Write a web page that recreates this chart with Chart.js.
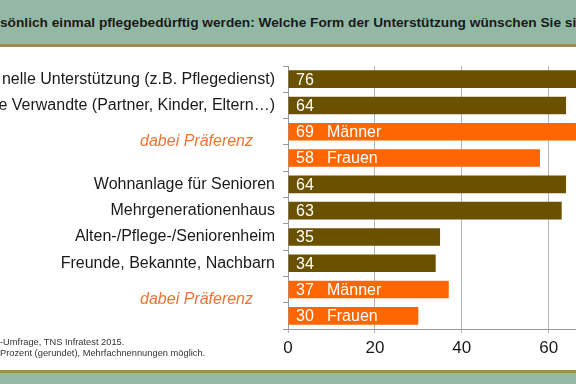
<!DOCTYPE html>
<html>
<head>
<meta charset="utf-8">
<script src="https://cdn.jsdelivr.net/npm/chart.js@4"></script>
<style>
  html, body { margin: 0; padding: 0; background: #fff; }
  #page { position: relative; width: 576px; height: 384px; overflow: hidden; font-family: "Liberation Sans", Arial, sans-serif; }
  #topBand { position: absolute; left: 0; top: 0; width: 576px; height: 44px; background: #93b9a6; border-bottom: 3px solid #a08c50; }
  #title { position: absolute; left: 0; top: 15px; white-space: nowrap; font-weight: bold; font-size: 13.7px; color: #1a1a1a; }
  #bottomBand { position: absolute; left: 0; top: 370px; width: 576px; height: 11px; background: #93b9a6; border-top: 3px solid #a08c50; }
  #note { position: absolute; left: 0; top: 337px; font-size: 9.3px; line-height: 10.5px; color: #333; white-space: nowrap; }
  #chartBox { position: absolute; left: 0; top: 47px; width: 650px; height: 320px; }
</style>
</head>
<body>
<div id="page">
  <div id="topBand"></div>
  <div id="title">sönlich einmal pflegebedürftig werden: Welche Form der Unterstützung wünschen Sie si</div>
  <div id="chartBox"><canvas id="myChart" width="650" height="320"></canvas></div>
  <div id="note">-Umfrage, TNS Infratest 2015.<br>Prozent (gerundet), Mehrfachnennungen möglich.</div>
  <div id="bottomBand"></div>
</div>
<script>
// Daten
const categories = [
    "nelle Unterstützung (z.B. Pflegedienst)",
    "e Verwandte (Partner, Kinder, Eltern…)",
    "", "",
    "Wohnanlage für Senioren",
    "Mehrgenerationenhaus",
    "Alten-/Pflege-/Seniorenheim",
    "Freunde, Bekannte, Nachbarn",
    "", ""
];
const values = [76, 64, 69, 58, 64, 63, 35, 34, 37, 30];
const subLabels = ["", "", "Männer", "Frauen", "", "", "", "", "Männer", "Frauen"];
const preferenceLabel = "dabei Präferenz";
const preferenceRows = [[2, 3], [8, 9]];
const xTicks = [0, 20, 40, 60, 80];

const brown = "#6a5100";
const orange = "#ff6600";

// Werte und Zusatztexte in die Balken schreiben
const barLabels = {
    id: "barLabels",
    afterDatasetsDraw(chart) {
        const ctx = chart.ctx;
        const meta = chart.getDatasetMeta(0);
        const left = chart.chartArea.left;
        ctx.save();
        ctx.fillStyle = "#ffffff";
        ctx.font = "16px 'Liberation Sans', Arial, sans-serif";
        ctx.textBaseline = "middle";
        ctx.textAlign = "left";
        meta.data.forEach((bar, i) => {
            ctx.fillText(String(values[i]), left + 8, bar.y + 1);
            if (subLabels[i]) {
                ctx.fillText(subLabels[i], left + 39, bar.y + 1);
            }
        });
        // "dabei Präferenz" links neben den Männer/Frauen-Zeilen
        const yScale = chart.scales.y;
        ctx.fillStyle = "#ee7433";
        ctx.font = "italic 16px 'Liberation Sans', Arial, sans-serif";
        ctx.textAlign = "right";
        preferenceRows.forEach(pair => {
            const y = (yScale.getPixelForValue(pair[0]) + yScale.getPixelForValue(pair[1])) / 2 - 3;
            ctx.fillText(preferenceLabel, 253, y);
        });
        ctx.restore();
    }
};

const ctx = document.getElementById("myChart").getContext("2d");
new Chart(ctx, {
    type: "bar",
    data: {
        labels: categories,
        datasets: [{
            data: values,
            backgroundColor: subLabels.map(s => s ? orange : brown),
            barPercentage: 0.67,
            categoryPercentage: 1.0
        }]
    },
    options: {
        indexAxis: "y",
        responsive: false,
        animation: false,
        layout: { padding: { top: 19, right: 10, bottom: 0, left: 0 } },
        plugins: {
            legend: { display: false },
            tooltip: { enabled: false }
        },
        scales: {
            x: {
                min: 0,
                max: 80,
                afterBuildTicks: axis => { axis.ticks = xTicks.map(v => ({ value: v })); },
                afterFit: axis => { axis.height = 38; },
                grid: { color: "#b5b5b5", tickLength: 4, lineWidth: 1 },
                border: { color: "#9a9a9a" },
                ticks: {
                    color: "#1a1a1a",
                    padding: 5,
                    font: { family: "'Liberation Sans', Arial, sans-serif", size: 17 }
                }
            },
            y: {
                afterFit: axis => { axis.width = 288; },
                grid: { drawOnChartArea: false, offset: true, tickLength: 5, color: "#9a9a9a" },
                border: { color: "#9a9a9a" },
                ticks: {
                    color: "#1a1a1a",
                    padding: 8,
                    font: { family: "'Liberation Sans', Arial, sans-serif", size: 16 }
                }
            }
        }
    },
    plugins: [barLabels]
});
</script>
</body>
</html>
